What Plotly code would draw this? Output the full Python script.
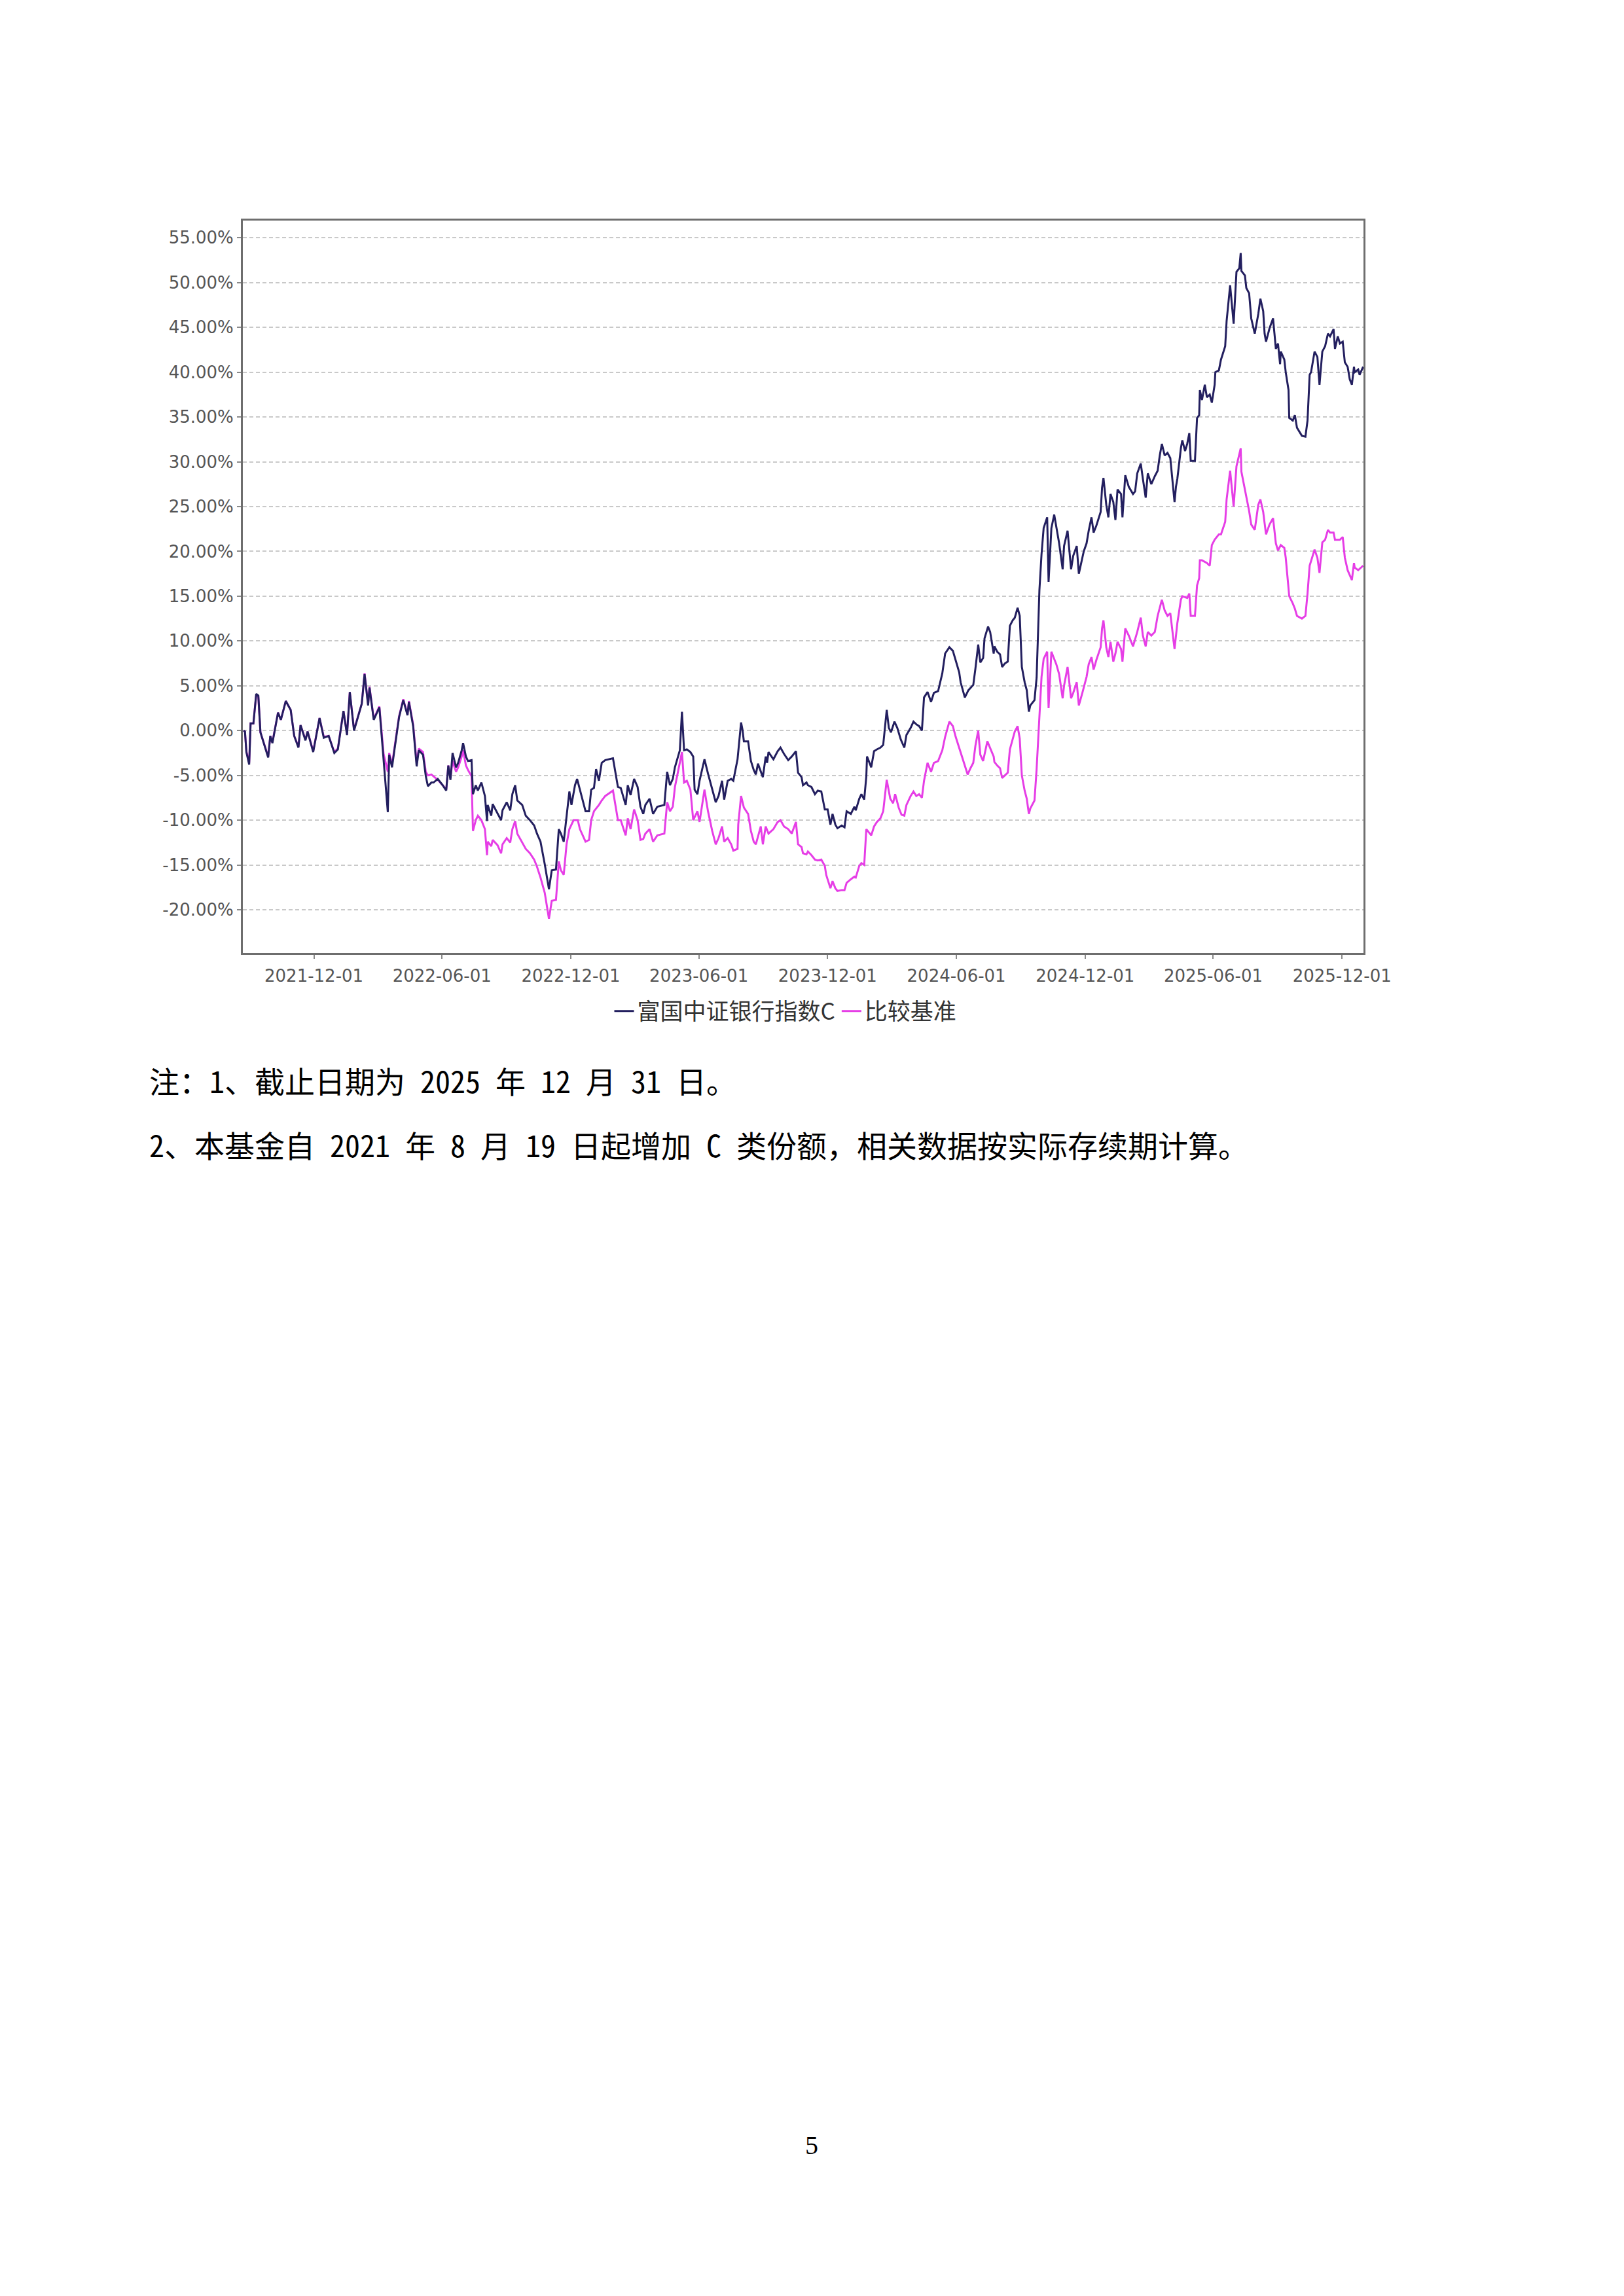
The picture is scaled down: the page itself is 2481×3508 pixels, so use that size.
import plotly.graph_objects as go

# ---------------- data ----------------
fund_dates = [
    "2021-08-23", "2021-08-25", "2021-08-27", "2021-08-31", "2021-09-02", "2021-09-06", "2021-09-10",
    "2021-09-13", "2021-09-16", "2021-09-27", "2021-09-30", "2021-10-03", "2021-10-11", "2021-10-15",
    "2021-10-22", "2021-10-26", "2021-10-29", "2021-11-03", "2021-11-09", "2021-11-12", "2021-11-19",
    "2021-11-22", "2021-11-30", "2021-12-09", "2021-12-15", "2021-12-22", "2021-12-30", "2022-01-04",
    "2022-01-12", "2022-01-17", "2022-01-21", "2022-01-27", "2022-02-07", "2022-02-11", "2022-02-16",
    "2022-02-18", "2022-02-24", "2022-03-04", "2022-03-10", "2022-03-16", "2022-03-18", "2022-03-22",
    "2022-03-25", "2022-04-01", "2022-04-07", "2022-04-13", "2022-04-15", "2022-04-21", "2022-04-26",
    "2022-04-29", "2022-05-05", "2022-05-09", "2022-05-12", "2022-05-17",
    "2022-05-20", "2022-05-26", "2022-06-02", "2022-06-07", "2022-06-10", "2022-06-13", "2022-06-16",
    "2022-06-21", "2022-06-24", "2022-06-29", "2022-07-01", "2022-07-05", "2022-07-08", "2022-07-13",
    "2022-07-15", "2022-07-19", "2022-07-22", "2022-07-27", "2022-08-01", "2022-08-04", "2022-08-05",
    "2022-08-10", "2022-08-12", "2022-08-19", "2022-08-24", "2022-08-26", "2022-09-01", "2022-09-06",
    "2022-09-09", "2022-09-13", "2022-09-16", "2022-09-23", "2022-09-28", "2022-10-04", "2022-10-10",
    "2022-10-14", "2022-10-19", "2022-10-25", "2022-10-28", "2022-10-31", "2022-11-04", "2022-11-10",
    "2022-11-14", "2022-11-17", "2022-11-21", "2022-11-25", "2022-11-29", "2022-12-02", "2022-12-07",
    "2022-12-10", "2022-12-13", "2022-12-16", "2022-12-22", "2022-12-27", "2022-12-30", "2023-01-03",
    "2023-01-06", "2023-01-10", "2023-01-14", "2023-01-19", "2023-01-30", "2023-02-06", "2023-02-10",
    "2023-02-17", "2023-02-20", "2023-02-24", "2023-03-01", "2023-03-06", "2023-03-10", "2023-03-14",
    "2023-03-17", "2023-03-23", "2023-03-28", "2023-04-03", "2023-04-13", "2023-04-17", "2023-04-21",
    "2023-04-25", "2023-04-28", "2023-05-05", "2023-05-08", "2023-05-11", "2023-05-15", "2023-05-20",
    "2023-05-24", "2023-05-26", "2023-05-30", "2023-06-02", "2023-06-09", "2023-06-14", "2023-06-20",
    "2023-06-25", "2023-06-29", "2023-07-04", "2023-07-07", "2023-07-12", "2023-07-17", "2023-07-20",
    "2023-07-26", "2023-07-31", "2023-08-02", "2023-08-04", "2023-08-10", "2023-08-14", "2023-08-18",
    "2023-08-21", "2023-08-24", "2023-08-31", "2023-09-04", "2023-09-06", "2023-09-08", "2023-09-15",
    "2023-09-21", "2023-09-25", "2023-09-30", "2023-10-06", "2023-10-11", "2023-10-17", "2023-10-20",
    "2023-10-25", "2023-10-27", "2023-11-01",
    "2023-11-03", "2023-11-08", "2023-11-13", "2023-11-17", "2023-11-22", "2023-11-27", "2023-12-01",
    "2023-12-05", "2023-12-08", "2023-12-12", "2023-12-15", "2023-12-21", "2023-12-25", "2023-12-28",
    "2024-01-03", "2024-01-08", "2024-01-10", "2024-01-15", "2024-01-18", "2024-01-22", "2024-01-25",
    "2024-01-26", "2024-02-01", "2024-02-05", "2024-02-09", "2024-02-14", "2024-02-18", "2024-02-23",
    "2024-02-26", "2024-02-29", "2024-03-05", "2024-03-09", "2024-03-14", "2024-03-19", "2024-03-22",
    "2024-03-28", "2024-04-01", "2024-04-05", "2024-04-09", "2024-04-13", "2024-04-16", "2024-04-21",
    "2024-04-26", "2024-04-30", "2024-05-06", "2024-05-12", "2024-05-16", "2024-05-22", "2024-05-27",
    "2024-05-31", "2024-06-05", "2024-06-07", "2024-06-13", "2024-06-18", "2024-06-25", "2024-06-28",
    "2024-07-02", "2024-07-05", "2024-07-09", "2024-07-11", "2024-07-16", "2024-07-19", "2024-07-24",
    "2024-07-25", "2024-07-29", "2024-08-02", "2024-08-05", "2024-08-09", "2024-08-13", "2024-08-16",
    "2024-08-20", "2024-08-23", "2024-08-27", "2024-08-30", "2024-09-02", "2024-09-06", "2024-09-09",
    "2024-09-12", "2024-09-14", "2024-09-20", "2024-09-23", "2024-09-27", "2024-09-30", "2024-10-03",
    "2024-10-08", "2024-10-10", "2024-10-14", "2024-10-18", "2024-10-21", "2024-10-25", "2024-10-30",
    "2024-11-01", "2024-11-06", "2024-11-11", "2024-11-14", "2024-11-19", "2024-11-22", "2024-11-27",
    "2024-11-29", "2024-12-03", "2024-12-06", "2024-12-10", "2024-12-13", "2024-12-17", "2024-12-23",
    "2024-12-25", "2024-12-27", "2024-12-31", "2025-01-03", "2025-01-06", "2025-01-10", "2025-01-13",
    "2025-01-16", "2025-01-21", "2025-01-23", "2025-01-27", "2025-02-01", "2025-02-07", "2025-02-10",
    "2025-02-13", "2025-02-18", "2025-02-21", "2025-02-25", "2025-02-28", "2025-03-05", "2025-03-10",
    "2025-03-14", "2025-03-17", "2025-03-20", "2025-03-24", "2025-03-28", "2025-04-01", "2025-04-07",
    "2025-04-09", "2025-04-11", "2025-04-16",
    "2025-04-18", "2025-04-22", "2025-04-25", "2025-04-28", "2025-04-30", "2025-05-06", "2025-05-09",
    "2025-05-12", "2025-05-13", "2025-05-16", "2025-05-20", "2025-05-23", "2025-05-27", "2025-05-30",
    "2025-06-03", "2025-06-04", "2025-06-09", "2025-06-12", "2025-06-18", "2025-06-20", "2025-06-25",
    "2025-06-30", "2025-07-02", "2025-07-04", "2025-07-08", "2025-07-10", "2025-07-11", "2025-07-16",
    "2025-07-18", "2025-07-22", "2025-07-25", "2025-07-30", "2025-08-04", "2025-08-07", "2025-08-11",
    "2025-08-13", "2025-08-15", "2025-08-20", "2025-08-25", "2025-08-29", "2025-09-01", "2025-09-04",
    "2025-09-05", "2025-09-10", "2025-09-12", "2025-09-16", "2025-09-17", "2025-09-22", "2025-09-25",
    "2025-09-28", "2025-10-05", "2025-10-10", "2025-10-13", "2025-10-16", "2025-10-18", "2025-10-23",
    "2025-10-27", "2025-10-30", "2025-11-03", "2025-11-07", "2025-11-11", "2025-11-14", "2025-11-19",
    "2025-11-21", "2025-11-25", "2025-11-28", "2025-12-02", "2025-12-05", "2025-12-09", "2025-12-12",
    "2025-12-15", "2025-12-18", "2025-12-19", "2025-12-24", "2025-12-26", "2025-12-31",
]
fund_values = [
    0.0, -0.1, -2.4, -3.8, 0.8, 0.8, 4.1,
    3.9, -0.2, -3.0, -0.6, -1.4, 2.0, 1.2,
    3.3, 2.7, 2.3, -0.6, -1.9, 0.6, -1.1,
    -0.1, -2.4, 1.4, -0.8, -0.6, -2.5, -2.1,
    2.2, -0.5, 4.3, 0.0, 3.0, 6.3, 2.8,
    4.8, 1.2, 2.6, -3.4, -9.1, -2.7, -4.1,
    -2.4, 1.5, 3.4, 1.7, 3.2, 0.5, -4.0,
    -2.2, -2.7, -5.1, -6.2, -5.8,
    -5.8, -5.4, -6.1, -6.7, -3.9, -5.5, -2.5,
    -4.1, -3.6, -2.2, -1.4, -2.9, -3.4, -3.3,
    -7.1, -6.1, -6.7, -5.8, -7.3, -10.1, -8.3,
    -9.5, -8.2, -9.3, -10.0, -8.9, -8.0, -8.9,
    -7.1, -6.1, -7.8, -8.3, -9.5, -10.0, -10.6,
    -11.5, -12.4, -14.9, -16.4, -17.7, -15.6, -15.5,
    -11.0, -11.5, -12.4, -9.8, -6.8, -8.3, -6.1,
    -5.4, -6.3, -7.3, -9.0, -9.0, -6.6, -6.4,
    -4.3, -5.6, -3.6, -3.3, -3.1, -6.3, -6.4,
    -8.3, -6.1, -7.2, -5.4, -6.3, -8.5, -9.3,
    -8.3, -7.6, -9.3, -8.5, -8.3, -4.6, -6.1,
    -5.4, -4.1, -2.2, 2.1, -2.2, -2.1, -2.4,
    -2.9, -6.6, -7.1, -5.6, -3.2, -4.8, -6.6,
    -8.0, -7.3, -5.6, -7.7, -5.6, -5.4, -5.6,
    -3.2, 0.9, 0.1, -1.2, -1.2, -3.4, -4.4,
    -4.9, -3.7, -5.2, -2.9, -3.6, -2.4, -3.2,
    -2.3, -1.9, -2.6, -3.3, -2.9, -2.3, -4.7,
    -5.2, -6.1, -5.8,
    -6.1, -6.3, -7.1, -6.7, -6.8, -8.8, -8.8,
    -10.5, -9.3, -10.5, -10.9, -10.6, -10.8, -9.0,
    -9.3, -8.5, -8.9, -7.6, -7.1, -7.7, -5.1,
    -2.9, -4.1, -2.3, -2.1, -1.9, -1.6, 2.3,
    0.3, -0.2, 1.0, 0.3, -1.0, -1.9, -0.5,
    0.3, 1.0, 0.7, 0.5, 0.0, 3.7, 4.3,
    3.2, 4.2, 4.4, 6.4, 8.6, 9.3, 8.9,
    7.8, 6.5, 5.4, 3.7, 4.5, 5.1, 6.9,
    9.6, 7.6, 8.1, 10.3, 11.6, 11.0, 8.6,
    9.4, 8.8, 8.5, 7.1, 7.5, 7.7, 11.7,
    12.3, 12.6, 13.7, 12.8, 7.1, 5.4, 4.5,
    2.1, 2.8, 3.4, 5.9, 15.7, 19.7, 22.6,
    23.8, 16.6, 22.6, 24.1, 22.6, 20.9, 18.0,
    20.6, 22.3, 18.0, 19.5, 20.6, 17.5, 19.2,
    20.0, 20.9, 22.3, 23.8, 22.1, 22.9, 24.4,
    27.1, 28.2, 25.2, 23.8, 26.4, 25.5, 23.5,
    26.9, 26.4, 23.8, 28.5, 27.2, 26.4, 26.7,
    28.7, 29.8, 28.1, 26.0, 28.7, 27.5, 28.4,
    29.0, 30.7, 32.0, 30.7, 31.0, 30.4, 25.5,
    27.2, 28.1, 31.5,
    32.4, 31.2, 32.0, 33.2, 30.1, 30.1, 34.9,
    35.2, 38.0, 36.9, 38.6, 37.2, 37.5, 36.6,
    38.6, 40.0, 40.2, 41.4, 42.9, 45.7, 49.7,
    45.4, 48.2, 51.2, 51.6, 53.3, 51.3, 50.8,
    49.4, 48.8, 46.0, 44.3, 46.5, 48.2, 46.8,
    44.3, 43.4, 44.9, 46.0, 42.6, 43.2, 40.9,
    42.3, 41.4, 40.0, 38.0, 34.9, 34.6, 35.2,
    33.8, 32.9, 32.8, 34.6, 39.7, 40.0, 42.3,
    41.7, 38.6, 42.3, 42.9, 44.3, 44.0, 44.8,
    42.6, 44.0, 43.2, 43.4, 41.1, 40.6, 39.2,
    38.6, 40.6, 40.0, 40.3, 39.7, 40.6,
]

bench_dates = [
    "2021-08-23", "2021-08-25", "2021-08-27", "2021-08-31", "2021-09-02", "2021-09-06", "2021-09-10",
    "2021-09-13", "2021-09-16", "2021-09-27", "2021-09-30", "2021-10-03", "2021-10-11", "2021-10-15",
    "2021-10-22", "2021-10-26", "2021-10-29", "2021-11-03", "2021-11-09", "2021-11-12", "2021-11-19",
    "2021-11-22", "2021-11-30", "2021-12-09", "2021-12-15", "2021-12-22", "2021-12-30", "2022-01-04",
    "2022-01-12", "2022-01-17", "2022-01-21", "2022-01-27", "2022-02-07", "2022-02-11", "2022-02-16",
    "2022-02-18", "2022-02-24", "2022-03-04", "2022-03-10", "2022-03-16", "2022-03-18", "2022-03-22",
    "2022-03-25", "2022-04-01", "2022-04-07", "2022-04-13", "2022-04-15", "2022-04-21", "2022-04-26",
    "2022-04-29", "2022-05-05", "2022-05-09", "2022-05-12", "2022-05-17",
    "2022-05-20", "2022-05-26", "2022-06-02", "2022-06-07", "2022-06-10", "2022-06-13", "2022-06-16",
    "2022-06-21", "2022-06-24", "2022-06-29", "2022-07-01", "2022-07-05", "2022-07-08", "2022-07-13",
    "2022-07-15", "2022-07-19", "2022-07-22", "2022-07-27", "2022-08-01", "2022-08-04", "2022-08-05",
    "2022-08-10", "2022-08-12", "2022-08-19", "2022-08-24", "2022-08-26", "2022-09-01", "2022-09-06",
    "2022-09-09", "2022-09-13", "2022-09-16", "2022-09-23", "2022-09-28", "2022-10-04", "2022-10-10",
    "2022-10-14", "2022-10-19", "2022-10-25", "2022-10-28", "2022-10-31", "2022-11-04", "2022-11-10",
    "2022-11-14", "2022-11-17", "2022-11-21", "2022-11-25", "2022-11-29", "2022-12-05", "2022-12-11",
    "2022-12-14", "2022-12-22", "2022-12-27", "2022-12-30", "2023-01-03", "2023-01-10", "2023-01-14",
    "2023-01-19", "2023-01-30", "2023-02-06", "2023-02-10",
    "2023-02-17", "2023-02-20", "2023-02-24", "2023-03-01", "2023-03-06", "2023-03-10", "2023-03-14",
    "2023-03-17", "2023-03-23", "2023-03-28", "2023-04-03", "2023-04-13", "2023-04-17", "2023-04-21",
    "2023-04-25", "2023-04-28", "2023-05-08", "2023-05-11", "2023-05-15", "2023-05-20", "2023-05-24",
    "2023-05-30", "2023-06-02", "2023-06-09", "2023-06-14", "2023-06-20", "2023-06-25", "2023-06-29",
    "2023-07-04", "2023-07-07", "2023-07-12", "2023-07-17", "2023-07-20", "2023-07-26", "2023-07-27",
    "2023-07-31", "2023-08-04", "2023-08-10", "2023-08-14", "2023-08-18", "2023-08-21", "2023-08-28",
    "2023-08-31", "2023-09-04", "2023-09-08", "2023-09-15", "2023-09-21", "2023-09-25", "2023-09-30",
    "2023-10-06", "2023-10-11", "2023-10-17", "2023-10-20", "2023-10-25", "2023-10-27", "2023-11-01",
    "2023-11-03", "2023-11-08", "2023-11-13", "2023-11-17", "2023-11-22", "2023-11-27", "2023-11-29",
    "2023-12-05", "2023-12-08", "2023-12-12", "2023-12-15", "2023-12-21", "2023-12-25", "2023-12-28",
    "2024-01-03", "2024-01-08", "2024-01-10", "2024-01-15", "2024-01-18", "2024-01-22", "2024-01-25",
    "2024-02-01", "2024-02-05", "2024-02-09", "2024-02-14", "2024-02-18", "2024-02-23", "2024-02-28",
    "2024-03-03", "2024-03-06", "2024-03-11", "2024-03-15", "2024-03-19", "2024-03-22", "2024-03-28",
    "2024-04-01", "2024-04-05", "2024-04-09", "2024-04-13", "2024-04-16", "2024-04-21", "2024-04-26",
    "2024-04-30", "2024-05-06", "2024-05-12", "2024-05-16", "2024-05-22", "2024-05-27", "2024-05-31",
    "2024-06-05", "2024-06-12", "2024-06-17", "2024-06-21", "2024-06-25", "2024-06-28", "2024-07-02",
    "2024-07-05", "2024-07-09", "2024-07-15", "2024-07-19", "2024-07-24",
    "2024-07-25", "2024-07-29", "2024-08-02", "2024-08-05", "2024-08-09", "2024-08-13", "2024-08-16",
    "2024-08-20", "2024-08-23", "2024-08-27", "2024-08-30", "2024-09-02", "2024-09-06", "2024-09-09",
    "2024-09-12", "2024-09-14", "2024-09-20", "2024-09-23", "2024-09-27", "2024-09-30", "2024-10-03",
    "2024-10-08", "2024-10-10", "2024-10-14", "2024-10-18", "2024-10-21", "2024-10-25", "2024-10-30",
    "2024-11-01", "2024-11-06", "2024-11-11", "2024-11-14", "2024-11-19", "2024-11-22", "2024-11-27",
    "2024-11-29", "2024-12-03", "2024-12-06", "2024-12-10", "2024-12-13", "2024-12-17", "2024-12-23",
    "2024-12-25", "2024-12-27", "2024-12-31", "2025-01-03", "2025-01-06", "2025-01-10", "2025-01-13",
    "2025-01-16", "2025-01-21", "2025-01-23", "2025-01-27", "2025-02-01", "2025-02-07", "2025-02-13",
    "2025-02-18", "2025-02-21", "2025-02-25", "2025-02-28", "2025-03-05", "2025-03-10", "2025-03-14",
    "2025-03-20", "2025-03-24", "2025-03-28", "2025-04-01", "2025-04-07", "2025-04-09", "2025-04-11",
    "2025-04-16",
    "2025-04-18", "2025-04-25", "2025-04-28", "2025-04-30", "2025-05-06", "2025-05-09", "2025-05-12",
    "2025-05-13", "2025-05-16", "2025-05-23", "2025-05-27", "2025-05-30", "2025-06-03", "2025-06-09",
    "2025-06-12", "2025-06-18", "2025-06-20", "2025-06-25", "2025-06-30", "2025-07-04", "2025-07-10",
    "2025-07-11", "2025-07-16", "2025-07-22", "2025-07-25", "2025-07-30", "2025-08-04", "2025-08-07",
    "2025-08-11", "2025-08-15", "2025-08-20", "2025-08-25", "2025-08-29", "2025-09-01", "2025-09-05",
    "2025-09-10", "2025-09-12", "2025-09-17", "2025-09-22", "2025-09-25", "2025-09-28", "2025-10-05",
    "2025-10-10", "2025-10-13", "2025-10-16", "2025-10-23", "2025-10-27", "2025-10-30", "2025-11-03",
    "2025-11-07", "2025-11-11", "2025-11-14", "2025-11-19", "2025-11-21", "2025-11-28", "2025-12-02",
    "2025-12-05", "2025-12-09", "2025-12-15", "2025-12-18", "2025-12-19", "2025-12-24", "2025-12-31",
]
bench_values = [
    0.0, -0.1, -2.3, -3.6, 0.8, 0.8, 4.0,
    3.8, -0.2, -2.9, -0.6, -1.3, 2.0, 1.2,
    3.3, 2.7, 2.3, -0.6, -1.8, 0.6, -1.0,
    -0.1, -2.3, 1.4, -0.7, -0.6, -2.4, -2.0,
    2.2, -0.4, 4.3, 0.1, 3.0, 6.4, 2.9,
    4.9, 1.3, 2.7, -2.6, -4.6, -2.5, -3.8,
    -2.2, 1.6, 3.5, 1.8, 3.3, 0.7, -3.6,
    -2.0, -2.4, -4.6, -5.0, -4.9,
    -5.1, -5.5, -6.1, -6.6, -3.9, -5.3, -3.4,
    -4.6, -4.1, -2.9, -2.2, -3.9, -4.4, -5.1,
    -11.2, -10.0, -9.5, -10.0, -11.0, -13.9, -12.4,
    -12.9, -12.2, -12.8, -13.7, -12.7, -12.0, -12.5,
    -11.0, -10.1, -11.5, -12.5, -13.2, -13.7, -14.4,
    -15.2, -16.4, -18.1, -19.5, -21.0, -19.0, -18.9,
    -14.6, -15.6, -16.1, -12.7, -11.0, -10.0, -10.0,
    -11.0, -12.4, -12.2, -10.0, -9.0, -8.3, -7.8,
    -7.3, -6.7, -10.0, -10.0,
    -11.7, -9.8, -11.0, -8.8, -10.0, -12.2, -12.1,
    -11.5, -11.0, -12.4, -11.7, -11.5, -8.0, -9.0,
    -8.5, -6.3, -2.4, -5.8, -5.6, -6.6, -10.0,
    -9.0, -10.2, -6.6, -9.0, -11.2, -12.7, -12.0,
    -10.7, -12.4, -12.0, -12.7, -13.4, -13.2, -10.5,
    -7.3, -8.6, -9.3, -11.2, -12.4, -12.7, -10.7,
    -12.7, -10.7, -11.5, -11.0, -10.2, -10.0, -10.7,
    -11.0, -11.5, -10.2, -12.7, -13.0, -13.7, -13.8,
    -13.5, -13.9, -14.4, -14.5, -14.4, -15.1, -16.1,
    -17.6, -16.8, -17.6, -17.9, -17.8, -17.8, -17.0,
    -16.6, -16.3, -16.4, -15.1, -14.8, -15.0, -11.0,
    -11.7, -10.7, -10.2, -9.8, -9.0, -5.5, -7.6,
    -8.1, -7.1, -8.6, -9.4, -9.5, -8.3, -7.3,
    -6.8, -7.3, -7.1, -7.5, -5.6, -3.6, -4.6,
    -3.6, -3.4, -2.2, -0.7, 1.0, 0.5, -0.7,
    -1.9, -3.6, -4.9, -4.2, -3.6, -1.7, 0.0,
    -2.7, -3.4, -1.2, -1.9, -2.9,
    -3.5, -3.9, -4.2, -5.3, -5.0, -4.7, -2.1,
    -0.9, -0.1, 0.5, -0.9, -5.0, -6.7, -7.6,
    -9.3, -8.7, -7.8, -4.3, 2.2, 6.0, 8.0,
    8.8, 2.5, 8.8, 8.0, 7.4, 6.3, 3.6,
    5.0, 7.1, 3.6, 4.2, 5.4, 2.8, 4.2,
    4.8, 6.0, 7.4, 8.2, 6.8, 7.9, 9.3,
    11.4, 12.3, 9.3, 8.2, 9.9, 7.7, 8.6,
    9.9, 9.1, 7.7, 11.4, 10.6, 9.4, 11.0,
    12.6, 10.6, 9.4, 11.0, 10.6, 11.0, 12.8,
    14.6, 13.4, 12.8, 13.1, 9.1, 10.6, 12.0,
    14.6,
    15.0, 14.8, 15.3, 12.8, 12.8, 16.2, 17.0,
    19.0, 19.0, 18.7, 18.4, 20.7, 21.3, 21.9,
    21.9, 23.3, 25.8, 29.0, 25.0, 29.5, 31.5,
    28.9, 27.0, 24.5, 23.0, 22.4, 25.2, 25.8,
    24.4, 21.9, 23.0, 23.7, 20.9, 20.1, 20.7,
    20.4, 19.3, 15.0, 14.2, 13.6, 12.8, 12.5,
    12.8, 15.3, 18.4, 20.2, 19.3, 17.6, 21.0,
    21.3, 22.4, 22.1, 22.1, 21.3, 21.3, 21.6,
    19.3, 17.9, 16.8, 18.7, 18.2, 17.9, 18.4,
]

series_names = ["富国中证银行指数C", "比较基准"]
x_tick_dates = ["2021-12-01", "2022-06-01", "2022-12-01", "2023-06-01", "2023-12-01",
                "2024-06-01", "2024-12-01", "2025-06-01", "2025-12-01"]
y_tick_values = [-20, -15, -10, -5, 0, 5, 10, 15, 20, 25, 30, 35, 40, 45, 50, 55]
y_tick_labels = [f"{v:.2f}%" for v in y_tick_values]

note_lines = [
    "注：1、截止日期为 2025 年 12 月 31 日。",
    "2、本基金自 2021 年 8 月 19 日起增加 C 类份额，相关数据按实际存续期计算。",
]
page_number = "5"

# ---------------- figure ----------------
fig = go.Figure()
fig.add_trace(go.Scatter(
    x=bench_dates, y=bench_values, mode="lines", name=series_names[1],
    line=dict(color="#e63ee6", width=3), legendrank=2,
))
fig.add_trace(go.Scatter(
    x=fund_dates, y=fund_values, mode="lines", name=series_names[0],
    line=dict(color="#231f5f", width=3), legendrank=1,
))

# darker dashed zero reference line
fig.add_shape(type="line", xref="paper", x0=0, x1=1, yref="y", y0=0, y1=0,
              line=dict(color="#8a8a8a", width=1.6, dash="6px,4px"), layer="below")

fig.update_xaxes(
    range=["2021-08-22", "2025-12-31 12:00"],
    tickvals=x_tick_dates, tickformat="%Y-%m-%d",
    tickfont=dict(family="DejaVu Sans", size=26, color="#555555"),
    ticks="outside", ticklen=6, tickwidth=2, tickcolor="#8a8a8a",
    showgrid=False, zeroline=False,
    showline=True, linecolor="#6e6e6e", linewidth=3, mirror=True,
    ticklabelstandoff=4,
)
fig.update_yaxes(
    range=[-24.82, 56.92],
    tickvals=y_tick_values, ticktext=y_tick_labels,
    tickfont=dict(family="DejaVu Sans", size=26, color="#555555"),
    ticks="outside", ticklen=6, tickwidth=2, tickcolor="#8a8a8a",
    showgrid=True, gridcolor="#c9c9c9", gridwidth=1.5, griddash="6px,4px",
    zeroline=False,
    showline=True, linecolor="#6e6e6e", linewidth=3, mirror=True,
    ticklabelstandoff=0,
)

# notes below the chart
plot_left, plot_right, plot_top, plot_bottom = 371, 2083, 337, 1456
pw, ph = plot_right - plot_left, plot_bottom - plot_top


def px_x(X):
    return (X - plot_left) / pw


def px_y(Y):
    return (plot_bottom - Y) / ph


for line_text, ypix in zip(note_lines, [1650, 1748]):
    fig.add_annotation(
        text=line_text, xref="paper", yref="paper", x=px_x(226), y=px_y(ypix),
        xanchor="left", yanchor="middle", showarrow=False,
        font=dict(family="Noto Sans Mono CJK SC, Noto Sans CJK SC", size=46, color="#000000"),
    )
fig.add_annotation(
    text=page_number, xref="paper", yref="paper", x=px_x(1240), y=px_y(3277),
    xanchor="center", yanchor="middle", showarrow=False,
    font=dict(family="Liberation Serif", size=40, color="#000000"),
)

fig.update_layout(
    width=2481, height=3508, autosize=False,
    margin=dict(l=plot_left, r=2481 - plot_right, t=plot_top, b=3508 - plot_bottom, pad=0),
    paper_bgcolor="#ffffff", plot_bgcolor="#ffffff",
    showlegend=True,
    legend=dict(
        orientation="h", xref="paper", yref="paper",
        x=px_x(1200), y=px_y(1545), xanchor="center", yanchor="middle",
        font=dict(family="Noto Sans CJK SC", size=35, color="#333333"),
        itemwidth=30, tracegroupgap=0, bgcolor="rgba(0,0,0,0)",
    ),
)

fig.write_html("out.html")
